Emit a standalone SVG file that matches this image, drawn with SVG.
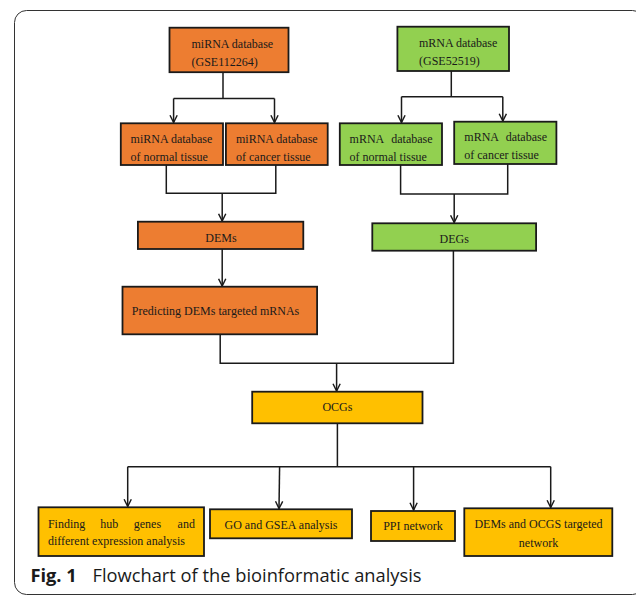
<svg xmlns="http://www.w3.org/2000/svg" width="636" height="597" viewBox="0 0 636 597">
<style>
.box{stroke:#1a1a1a;stroke-width:1.8}
.or{fill:#ED7D31}
.gr{fill:#92D050}
.yl{fill:#FFC000}
.t{font-family:"Liberation Serif","Times New Roman",serif;font-size:12px;fill:#1a1a1a}
.c{text-anchor:middle}
.ln{fill:none;stroke:#1a1a1a;stroke-width:1.5}
.cap{font-family:"Open Sans","Noto Sans",sans-serif;font-size:18.3px;fill:#1a1a1a}
</style>
<defs>
<marker id="ar" viewBox="0 0 10 10" refX="9" refY="5" markerWidth="9" markerHeight="9" markerUnits="userSpaceOnUse" orient="auto">
<path d="M1,1 L9,5 L1,9" fill="none" stroke="#1a1a1a" stroke-width="1.6"/>
</marker>
</defs>
<rect x="14.5" y="10.5" width="630" height="584" rx="12" fill="#fff" stroke="#333" stroke-width="1"/>
<g id="connectors">
<path class="ln" d="M223,72 V98.5 M173.6,98.5 H274.5"/>
<path class="ln" d="M173.6,98.5 V122.5" marker-end="url(#ar)"/>
<path class="ln" d="M274.5,98.5 V122.5" marker-end="url(#ar)"/>
<path class="ln" d="M451.3,71 V96.7 M401.5,96.7 H502.8"/>
<path class="ln" d="M401.5,96.7 V122.5" marker-end="url(#ar)"/>
<path class="ln" d="M502.8,96.7 V121" marker-end="url(#ar)"/>
<path class="ln" d="M166.3,165 V193.3 H275.8 V165"/>
<path class="ln" d="M222.2,193.3 V221" marker-end="url(#ar)"/>
<path class="ln" d="M400.6,164.5 V194 H507.7 V164"/>
<path class="ln" d="M454.2,194 V222.5" marker-end="url(#ar)"/>
<path class="ln" d="M222.2,249 V286" marker-end="url(#ar)"/>
<path class="ln" d="M220.2,334.3 V363.3 H453.4 V250.7"/>
<path class="ln" d="M336.6,363.3 V391" marker-end="url(#ar)"/>
<path class="ln" d="M337.4,423.3 V466.7 M127.7,466.7 H550.7"/>
<path class="ln" d="M127.7,466.7 V506.5" marker-end="url(#ar)"/>
<path class="ln" d="M279.6,466.7 L279,508.5" marker-end="url(#ar)"/>
<path class="ln" d="M413.6,466.7 V510" marker-end="url(#ar)"/>
<path class="ln" d="M550.7,466.7 V507.5" marker-end="url(#ar)"/>
</g>
<g id="mirna-db">
<rect class="box or" x="169.5" y="27.7" width="119" height="44.5"/>
<text class="t" x="191.5" y="47.5">miRNA database</text>
<text class="t" x="191.5" y="66">(GSE112264)</text>
</g>
<g id="mrna-db">
<rect class="box gr" x="397.4" y="26.7" width="111.6" height="44.3"/>
<text class="t" x="419" y="46.5">mRNA database</text>
<text class="t" x="419" y="65">(GSE52519)</text>
</g>
<g id="mirna-normal">
<rect class="box or" x="120.8" y="123.3" width="102.2" height="41.7"/>
<text class="t" x="130.6" y="142.5">miRNA database</text>
<text class="t" x="130.6" y="160.5">of normal tissue</text>
</g>
<g id="mirna-cancer">
<rect class="box or" x="225.9" y="123.3" width="101.8" height="41.7"/>
<text class="t" x="236" y="142.5">miRNA database</text>
<text class="t" x="236" y="160.5">of cancer tissue</text>
</g>
<g id="mrna-normal">
<rect class="box gr" x="339.8" y="123.3" width="102.2" height="41.7"/>
<text class="t" x="349.6" y="142.5">mRNA<tspan x="391.3">database</tspan></text>
<text class="t" x="349.6" y="160.5">of normal tissue</text>
</g>
<g id="mrna-cancer">
<rect class="box gr" x="454.2" y="121.7" width="102.2" height="42.3"/>
<text class="t" x="464.3" y="141">mRNA<tspan x="505.7">database</tspan></text>
<text class="t" x="464.3" y="159">of cancer tissue</text>
</g>
<g id="dems">
<rect class="box or" x="137.9" y="221.7" width="165.4" height="27.3"/>
<text class="t c" x="221" y="241.5">DEMs</text>
</g>
<g id="degs">
<rect class="box gr" x="372.3" y="223.3" width="163.8" height="27.4"/>
<text class="t c" x="454.2" y="243">DEGs</text>
</g>
<g id="predicting">
<rect class="box or" x="122.5" y="286.7" width="194.6" height="47.6"/>
<text class="t" x="131.8" y="315">Predicting DEMs targeted mRNAs</text>
</g>
<g id="ocgs">
<rect class="box yl" x="252.2" y="391.7" width="170.3" height="31.6"/>
<text class="t c" x="337.4" y="411">OCGs</text>
</g>
<g id="finding">
<rect class="box yl" x="38.5" y="507.3" width="165.5" height="48.7"/>
<text class="t" y="527.5"><tspan x="47.9">Finding</tspan><tspan x="100.2">hub</tspan><tspan x="133.8">genes</tspan><tspan x="177.6">and</tspan></text>
<text class="t" x="47.9" y="545">different expression analysis</text>
</g>
<g id="go">
<rect class="box yl" x="210" y="509.3" width="142" height="29"/>
<text class="t c" x="281" y="529">GO and GSEA analysis</text>
</g>
<g id="ppi">
<rect class="box yl" x="371" y="511" width="84" height="30"/>
<text class="t c" x="413" y="530">PPI network</text>
</g>
<g id="dems-ocgs">
<rect class="box yl" x="464.3" y="508.3" width="148" height="47.7"/>
<text class="t c" x="538.5" y="528">DEMs and OCGS targeted</text>
<text class="t c" x="538.5" y="547">network</text>
</g>
<text class="cap" x="30.4" y="582"><tspan font-weight="bold">Fig. 1</tspan><tspan x="92.5">Flowchart of the bioinformatic analysis</tspan></text>
</svg>
